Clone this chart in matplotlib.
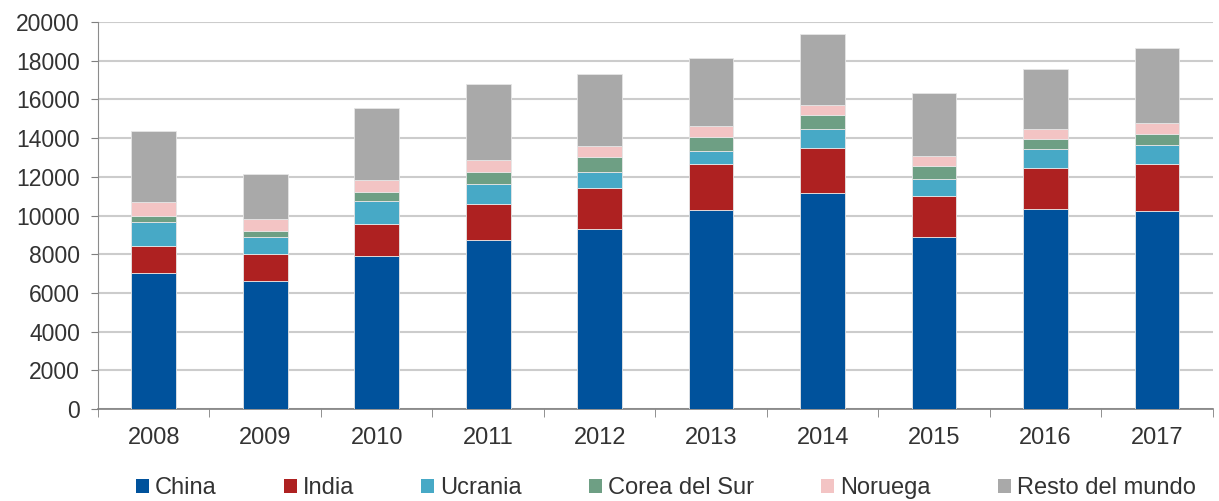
import numpy as np
import matplotlib.pyplot as plt
from matplotlib.patches import Patch

plt.rcParams['font.family'] = ['Liberation Sans', 'DejaVu Sans']

# Data
years = ['2008', '2009', '2010', '2011', '2012', '2013', '2014', '2015', '2016', '2017']
china = [7030, 6600, 7890, 8720, 9320, 10270, 11150, 8870, 10335, 10230]
india = [1410, 1430, 1670, 1860, 2120, 2375, 2320, 2150, 2120, 2430]
ucrania = [1220, 840, 1190, 1030, 825, 670, 985, 880, 965, 965]
corea = [330, 345, 450, 640, 775, 740, 755, 660, 520, 570]
noruega = [690, 585, 620, 600, 550, 570, 520, 515, 515, 600]
resto = [3700, 2360, 3740, 3930, 3720, 3495, 3635, 3240, 3115, 3845]

names = ['China', 'India', 'Ucrania', 'Corea del Sur', 'Noruega', 'Resto del mundo']
colors = ['#00529C', '#AE2121', '#47A9C6', '#6E9F84', '#F3C4C4', '#A9A9A9']
series = [china, india, ucrania, corea, noruega, resto]

fig = plt.figure(figsize=(12.19, 5.01), dpi=100)
ax = fig.add_axes([0.0804, 0.1836, 0.9146, 0.7724])

x = np.arange(len(years))
bottom = np.zeros(len(years))
for vals, col in zip(series, colors):
    ax.bar(x, vals, width=0.40, bottom=bottom, color=col,
           edgecolor='#e6e6e6', linewidth=0.6, zorder=3)
    bottom += np.array(vals)

ax.set_xlim(-0.5, len(years) - 0.5)
ax.set_ylim(0, 20000)
ax.set_yticks(np.arange(0, 20001, 2000))
ax.yaxis.grid(True, color='#cccccc', linewidth=1.5, zorder=0)
ax.set_axisbelow(True)

ax.set_xticks(x)
ax.set_xticklabels(years)
ax.set_xticks(np.arange(-0.5, len(years), 1), minor=True)
ax.tick_params(axis='x', which='major', length=0, pad=13, labelsize=17, labelcolor='#333333')
ax.tick_params(axis='x', which='minor', length=6, color='#7f7f7f', direction='out')
ax.tick_params(axis='y', length=5, color='#7f7f7f', labelsize=16.5, labelcolor='#333333', pad=8)

for s in ['top', 'right']:
    ax.spines[s].set_visible(False)
ax.spines['left'].set_color('#8c8c8c')
ax.spines['bottom'].set_color('#7f7f7f')
ax.spines['bottom'].set_linewidth(1.2)

handles = [Patch(facecolor=c, edgecolor='none') for c in colors]
leg = fig.legend(handles, names, loc='center', bbox_to_anchor=(0.546, 0.025),
                 ncol=6, frameon=False, fontsize=17, handlelength=0.55,
                 handleheight=0.55, handletextpad=0.25, columnspacing=2.85,
                 borderpad=0, borderaxespad=0)
for t in leg.get_texts():
    t.set_color('#333333')

fig.savefig('out.png', dpi=100)
